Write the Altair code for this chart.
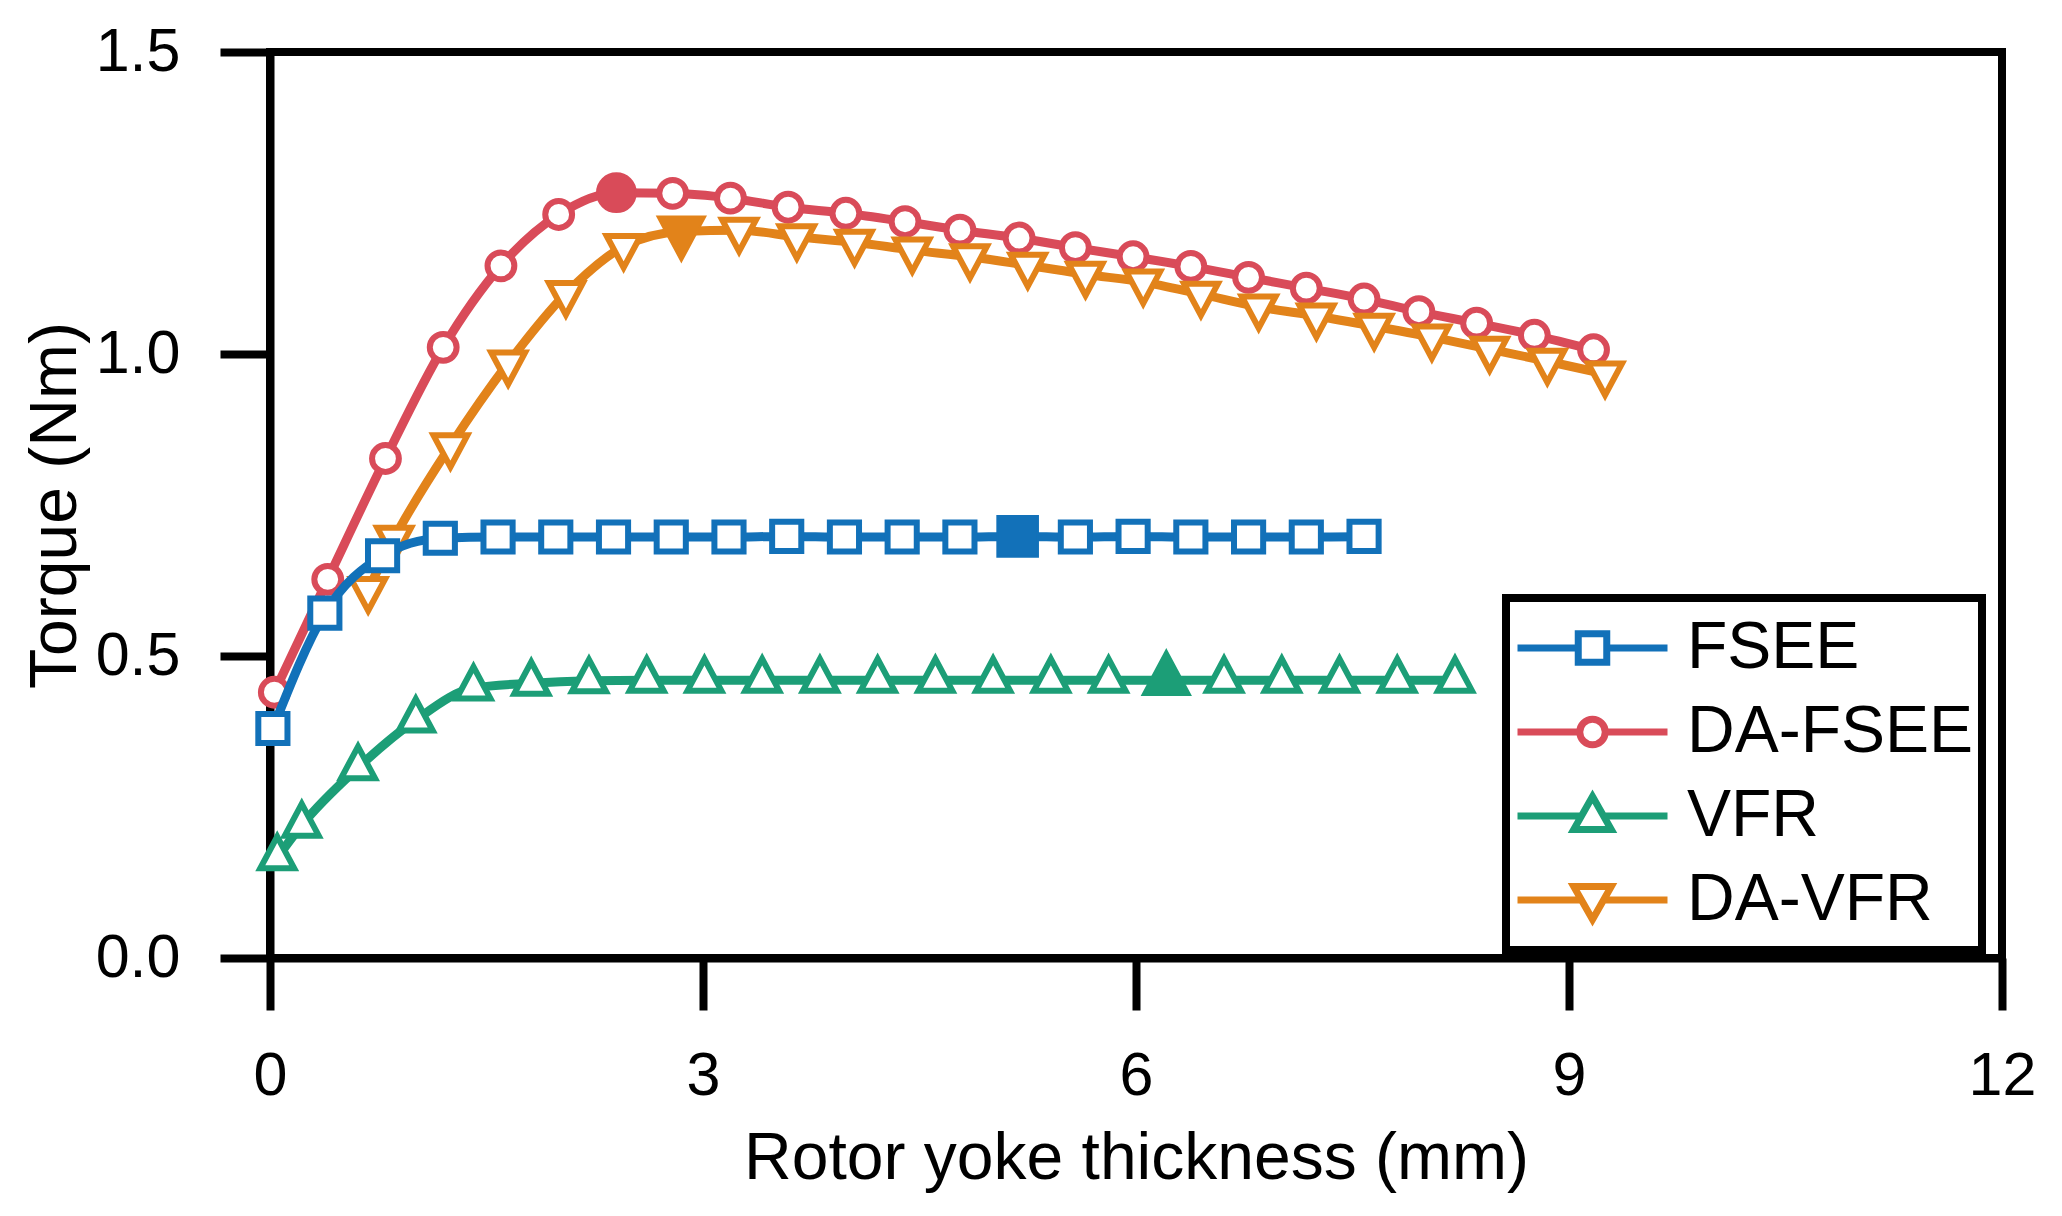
import altair as alt
import pandas as pd

# series values (x in mm, torque in Nm)
fsee_x = [0.02, 0.38, 0.78, 1.18, 1.58, 1.98, 2.38, 2.78, 3.18, 3.58,
          3.98, 4.38, 4.78, 5.18, 5.58, 5.98, 6.38, 6.78, 7.18, 7.58]
fsee_y = [0.380, 0.571, 0.666, 0.695, 0.697, 0.697, 0.697, 0.697, 0.697, 0.698,
          0.697, 0.697, 0.697, 0.698, 0.697, 0.698, 0.697, 0.697, 0.697, 0.698]
fsee_opt = 13

dafsee_x = [0.03, 0.40, 0.80, 1.20, 1.60, 2.00, 2.40, 2.79, 3.19, 3.59, 3.99, 4.40,
            4.78, 5.19, 5.58, 5.98, 6.38, 6.78, 7.18, 7.58, 7.96, 8.36, 8.76, 9.17]
dafsee_y = [0.440, 0.627, 0.827, 1.011, 1.146, 1.231, 1.267, 1.266, 1.258, 1.243, 1.233, 1.219,
            1.205, 1.192, 1.176, 1.161, 1.145, 1.127, 1.109, 1.091, 1.070, 1.051, 1.031, 1.007]
dafsee_opt = 6

vfr_x = [0.05, 0.22, 0.61, 1.01, 1.41, 1.81, 2.21, 2.61, 3.01, 3.41, 3.81,
         4.21, 4.61, 5.01, 5.41, 5.81, 6.21, 6.61, 7.01, 7.41, 7.81, 8.21]
vfr_y = [0.166, 0.220, 0.315, 0.394, 0.447, 0.455, 0.459, 0.460, 0.460, 0.460, 0.460,
         0.460, 0.460, 0.460, 0.460, 0.460, 0.460, 0.460, 0.460, 0.460, 0.460, 0.460]
vfr_opt = 16

davfr_x = [0.68, 0.86, 1.25, 1.65, 2.05, 2.45, 2.85, 3.25, 3.65, 4.05, 4.45, 4.85,
           5.25, 5.65, 6.05, 6.45, 6.85, 7.25, 7.65, 8.05, 8.45, 8.85, 9.25]
davfr_y = [0.610, 0.695, 0.848, 0.985, 1.100, 1.178, 1.203, 1.205, 1.194, 1.185, 1.172, 1.161,
           1.147, 1.132, 1.119, 1.099, 1.078, 1.063, 1.046, 1.028, 1.008, 0.988, 0.967]
davfr_opt = 6

names = ["FSEE", "DA-FSEE", "VFR", "DA-VFR"]
colors = ["#1271B9", "#D94B59", "#1C9E77", "#E2831A"]

# marker shapes, centred on the data point (triangles on their centroid)
tri_up = "M0,-1.25L1,0.62L-1,0.62Z"
tri_down = "M0,1.25L1,-0.62L-1,-0.62Z"
marker = {"FSEE": ("square", 850, 1650),
          "DA-FSEE": ("circle", 720, 1500),
          "VFR": (tri_up, 1150, 2300),
          "DA-VFR": (tri_down, 1150, 2300)}

# legend symbols: line with the marker in the middle
legend_paths = [
    "M-1,0H-0.19M0.19,0H1M-0.19,-0.19H0.19V0.19H-0.19Z",
    "M-1,0H-0.17M0.17,0H1M0.17,0A0.17,0.17 0 1,1 -0.17,0A0.17,0.17 0 1,1 0.17,0Z",
    "M-1,0H-0.14M0.14,0H1M0,-0.26L0.25,0.18H-0.25Z",
    "M-1,0H-0.14M0.14,0H1M0,0.26L0.25,-0.18H-0.25Z",
]

series = {"FSEE": (fsee_x, fsee_y, fsee_opt),
          "DA-FSEE": (dafsee_x, dafsee_y, dafsee_opt),
          "VFR": (vfr_x, vfr_y, vfr_opt),
          "DA-VFR": (davfr_x, davfr_y, davfr_opt)}

x_scale = alt.Scale(domain=[0, 12], nice=False, zero=False)
y_scale = alt.Scale(domain=[0, 1.5], nice=False)

x_enc = alt.X("x:Q", scale=x_scale, title="Rotor yoke thickness (mm)",
              axis=alt.Axis(values=[0, 3, 6, 9, 12], format="d", tickSize=52,
                            labelPadding=36, titlePadding=20, labelFlush=False))
y_enc = alt.Y("y:Q", scale=y_scale, title="Torque (Nm)",
              axis=alt.Axis(values=[0, 0.5, 1.0, 1.5], format=".1f", tickSize=50,
                            labelPadding=40, titlePadding=6, labelFlush=False))

layers = []
# drawing order: red, orange, green, blue on top
for name in ["DA-FSEE", "DA-VFR", "VFR", "FSEE"]:
    xs, ys, opt = series[name]
    col = colors[names.index(name)]
    shape, s_open, s_fill = marker[name]
    df = pd.DataFrame({"x": xs, "y": ys})
    df["opt"] = [i == opt for i in range(len(xs))]
    base = alt.Chart(df)
    line = base.mark_line(color=col, strokeWidth=9, interpolate="monotone").encode(x=x_enc, y=y_enc)
    pts = base.transform_filter("!datum.opt").mark_point(
        shape=shape, size=s_open, filled=True, fill="white", stroke=col,
        strokeWidth=6, opacity=1).encode(x="x:Q", y="y:Q")
    best = base.transform_filter("datum.opt").mark_point(
        shape=shape, size=s_fill, filled=True, fill=col, stroke=col,
        strokeWidth=2, opacity=1).encode(x="x:Q", y="y:Q")
    layers += [line, pts, best]

leg_df = pd.DataFrame({"x": [0.0] * 4, "y": [0.0] * 4, "series": names})
legend_layer = alt.Chart(leg_df).transform_filter("false").mark_point(
    filled=False, opacity=1).encode(
    x="x:Q", y="y:Q",
    color=alt.Color("series:N", scale=alt.Scale(domain=names, range=colors),
                    legend=alt.Legend(title=None, orient="none", legendX=1236, legendY=546,
                                      symbolSize=22500, symbolStrokeWidth=7,
                                      symbolOpacity=1, symbolFillColor="white",
                                      clipHeight=84, labelFontSize=66, labelOffset=16,
                                      labelColor="black", labelFont="Liberation Sans",
                                      labelLimit=600, padding=8, strokeColor="black",
                                      rowPadding=0)),
    shape=alt.Shape("series:N", scale=alt.Scale(domain=names, range=legend_paths), legend=None),
)

chart = alt.layer(*layers, legend_layer).properties(
    width=1732, height=906,
    autosize=alt.AutoSizeParams(type="none"),
    padding={"left": 262, "top": 44, "right": 52, "bottom": 250},
).configure_view(
    stroke="black", strokeWidth=8
).configure_axis(
    grid=False, domainColor="black", domainWidth=8, tickColor="black", tickWidth=8,
    labelFont="Liberation Sans", titleFont="Liberation Sans", labelFontSize=61,
    titleFontSize=66, labelColor="black", titleColor="black", titleFontWeight="normal",
    zindex=1
).configure_legend(
    strokeWidth=8
)

chart.save("out.html", embed_options={"renderer": "svg", "actions": False})
